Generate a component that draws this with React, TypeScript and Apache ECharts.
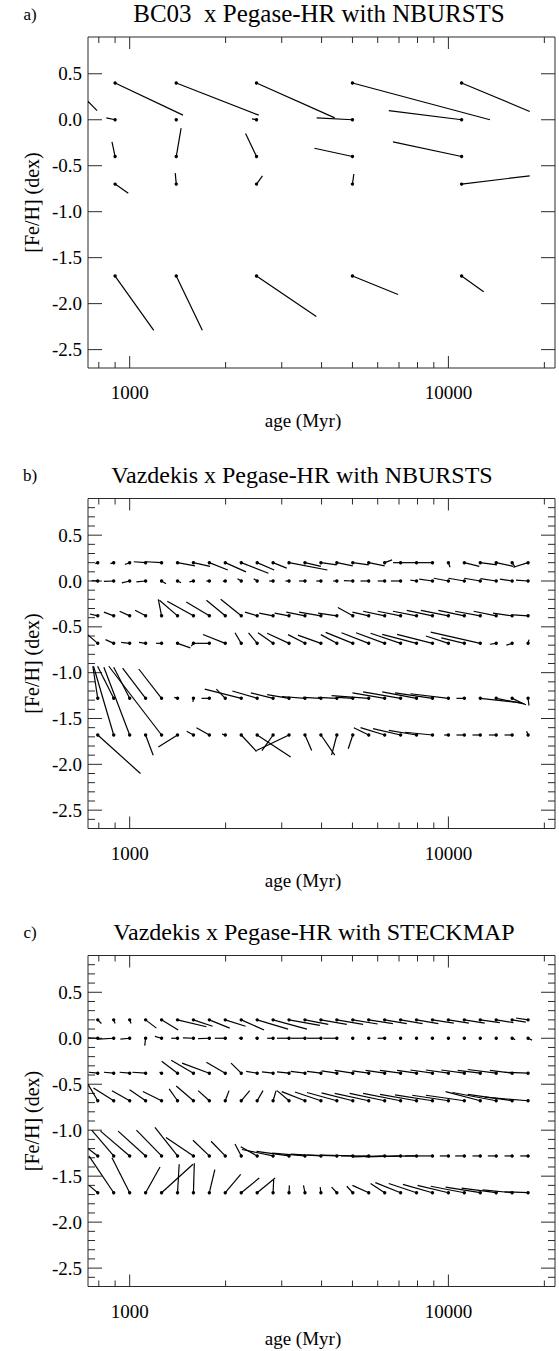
import React, { useEffect, useRef } from "react";
import * as echarts from "echarts";

const FONT = "Liberation Serif";
const INK = "#000";
const FRAME = "#2a2a2a";

// ---- axes ----
const X_MIN = 740;
const X_MAX = 21600;
const Y_MIN = -2.7;
const Y_MAX = 0.9;
const xLabelValues = [1000, 10000];
const xMajorTicks = [1000, 10000];
const xMinorTicks = [800, 900, 2000, 3000, 4000, 5000, 6000, 7000, 8000, 9000, 20000];
const yLabelValues = [-2.5, -2.0, -1.5, -1.0, -0.5, 0.0, 0.5];
const yMajorTicks = [-2.5, -2.0, -1.5, -1.0, -0.5, 0.0, 0.5];
const yMinorTicks = [
  -2.6, -2.4, -2.3, -2.2, -2.1, -1.9, -1.8, -1.7, -1.6, -1.4, -1.3, -1.2, -1.1,
  -0.9, -0.8, -0.7, -0.6, -0.4, -0.3, -0.2, -0.1, 0.1, 0.2, 0.3, 0.4, 0.6, 0.7, 0.8,
];

const panelLetters = ["a)", "b)", "c)"];
const panelTitles = [
  "BC03  x Pegase-HR with NBURSTS",
  "Vazdekis x Pegase-HR with NBURSTS",
  "Vazdekis x Pegase-HR with STECKMAP",
];
const xTitle = "age (Myr)";
const yTitle = "[Fe/H] (dex)";

// ---- panel a : BC03 grid ----
const aAges = [900, 1400, 2500, 5000, 11000];
const aMets = [0.4, 0.0, -0.4, -0.7, -1.7];
const aRecAge_p04 = [1470, 2540, 4400, 13500, 18000];
const aRecMet_p04 = [0.05, 0.05, 0.02, 0.0, 0.09];
const aRecAge_p00 = [845, 1400, 2420, 3860, 6500];
const aRecMet_p00 = [0.02, 0.0, 0.01, 0.02, 0.1];
const aRecAge_m04 = [880, 1450, 2310, 3800, 6700];
const aRecMet_m04 = [-0.24, -0.09, -0.15, -0.31, -0.24];
const aRecAge_m07 = [990, 1390, 2610, 5050, 18000];
const aRecMet_m07 = [-0.8, -0.58, -0.61, -0.59, -0.61];
const aRecAge_m17 = [1190, 1690, 3850, 6950, 12900];
const aRecMet_m17 = [-2.29, -2.29, -2.14, -1.9, -1.87];
// younger model (outside the plotted age range)
const aExtraAge = [650];
const aExtraMet = [0.4];
const aExtraRecAge = [790];
const aExtraRecMet = [0.1];

// ---- Vazdekis grid ----
const vAges = [
  794, 891, 1000, 1122, 1259, 1413, 1585, 1778, 1995, 2239, 2512, 2818, 3162, 3548,
  3981, 4467, 5012, 5623, 6310, 7079, 7943, 8913, 10000, 11220, 12589, 14125, 15849, 17783,
];
const vMets = [0.2, 0.0, -0.38, -0.68, -1.28, -1.68];

// ---- panel b : NBURSTS ----
const bRecAge_p020 = [780, 870, 966, 1030, 1125, 1603, 1786, 2032, 2317, 2725, 2841, 3109, 4173, 3981, 4467, 5012, 5623, 6310, 6660, 6700, 7140, 7940, 10120, 12500, 14200, 15980, 16200, 15980];
const bRecMet_p020 = [0.19, 0.19, 0.18, 0.21, 0.21, 0.165, 0.16, 0.12, 0.1, 0.085, 0.12, 0.14, 0.12, 0.16, 0.175, 0.165, 0.175, 0.165, 0.23, 0.2, 0.2, 0.2, 0.15, 0.16, 0.175, 0.16, 0.15, 0.15];
const bRecAge_p000 = [760, 830, 945, 1050, 1300, 1450, 1540, 1740, 1960, 2180, 2450, 2740, 3080, 3400, 3850, 4350, 4700, 5300, 6000, 6600, 7600, 8100, 9000, 10000, 11200, 12600, 14500, 16300];
const bRecMet_p000 = [0.005, -0.005, -0.02, -0.01, -0.03, -0.02, -0.01, 0.0, -0.005, 0.025, 0.025, 0.0, 0.0, 0.0, 0.0, 0.0, 0.005, 0.0, 0.0, 0.0, 0.01, 0.02, 0.03, 0.03, 0.03, 0.025, 0.02, 0.01];
const bRecAge_m038 = [750, 830, 930, 1040, 1230, 1240, 1312, 1505, 1741, 1930, 2300, 2550, 2850, 3100, 3400, 3900, 4500, 5000, 5400, 6000, 6700, 7400, 8200, 9300, 10500, 12000, 13800, 16000];
const bRecMet_m038 = [-0.36, -0.34, -0.33, -0.32, -0.2, -0.21, -0.22, -0.23, -0.21, -0.2, -0.34, -0.35, -0.35, -0.34, -0.34, -0.35, -0.29, -0.34, -0.33, -0.33, -0.33, -0.32, -0.32, -0.32, -0.33, -0.33, -0.35, -0.37];
const bRecAge_m068 = [735, 840, 940, 1070, 1210, 1550, 1560, 1600, 1698, 2140, 2360, 2527, 2700, 3140, 3370, 3980, 4120, 4620, 5130, 5700, 6200, 6900, 8500, 9500, 8800, 13500, 15200, 17900];
const bRecMet_m068 = [-0.58, -0.64, -0.67, -0.67, -0.68, -0.73, -0.71, -0.68, -0.583, -0.565, -0.565, -0.565, -0.57, -0.585, -0.59, -0.585, -0.56, -0.565, -0.565, -0.57, -0.583, -0.583, -0.6, -0.62, -0.558, -0.69, -0.7, -0.64];
const bRecAge_m128 = [766, 793, 891, 950, 1068, 1380, 1580, 1680, 1870, 1720, 2100, 2400, 2700, 3000, 3500, 3900, 4500, 4300, 5000, 5400, 6200, 6800, 7600, 10600, 17000, 17300, 17500, 17900];
const bRecMet_m128 = [-0.93, -0.93, -0.94, -0.95, -0.96, -1.27, -1.32, -1.28, -1.18, -1.18, -1.2, -1.22, -1.24, -1.26, -1.27, -1.27, -1.27, -1.25, -1.22, -1.21, -1.21, -1.22, -1.23, -1.28, -1.33, -1.34, -1.35, -1.36];
const bRecAge_m168 = [1081, 770, 830, 1185, 860, 1230, 1510, 1620, 1950, 2500, 3200, 2600, 2500, 3725, 4400, 4300, 4850, 5050, 5300, 5800, 6500, 7300, 9700, 10600, 11900, 13400, 15000, 17600];
const bRecMet_m168 = [-2.1, -0.93, -0.94, -1.9, -0.93, -1.81, -1.64, -1.6, -1.67, -1.86, -1.92, -1.85, -1.85, -1.85, -1.9, -1.9, -1.83, -1.6, -1.6, -1.61, -1.63, -1.65, -1.68, -1.68, -1.68, -1.68, -1.68, -1.64];

// ---- panel c : STECKMAP ----
const cRecAge_p020 = [815, 900, 1010, 1213, 1420, 1740, 1820, 2060, 2310, 2640, 3140, 3600, 3950, 4200, 4800, 5400, 6000, 6700, 7400, 8300, 9300, 10400, 11600, 13000, 14500, 16000, 17500, 16300];
const cRecMet_p020 = [0.16, 0.16, 0.16, 0.11, 0.09, 0.125, 0.13, 0.11, 0.13, 0.09, 0.1, 0.1, 0.14, 0.15, 0.15, 0.15, 0.155, 0.16, 0.16, 0.16, 0.16, 0.165, 0.165, 0.165, 0.17, 0.17, 0.175, 0.22];
const cRecAge_p000 = [740, 800, 935, 1115, 1200, 1350, 1470, 1640, 1850, 2200, 2480, 2700, 2900, 3200, 3600, 4050, 4950, 5600, 6000, 7000, 7900, 8800, 9900, 11100, 12500, 14000, 16200, 18300];
const cRecMet_p000 = [0.005, -0.01, -0.01, -0.08, 0.02, 0.0, 0.005, -0.005, 0.0, 0.0, 0.0, 0.0, 0.0, 0.0, 0.0, 0.0, 0.0, 0.0, 0.0, 0.0, 0.0, 0.0, 0.0, 0.0, 0.0, 0.0, -0.015, -0.02];
const cRecAge_m038 = [745, 830, 930, 1020, 1240, 1260, 1350, 1460, 1740, 2080, 2320, 2600, 2900, 3200, 3600, 4000, 4400, 5000, 5500, 6100, 6900, 7600, 8500, 9500, 10700, 11500, 13500, 15000];
const cRecMet_m038 = [-0.37, -0.37, -0.37, -0.37, -0.37, -0.25, -0.24, -0.27, -0.26, -0.27, -0.36, -0.365, -0.365, -0.36, -0.36, -0.355, -0.35, -0.355, -0.35, -0.35, -0.35, -0.345, -0.345, -0.345, -0.35, -0.34, -0.35, -0.37];
const cRecAge_m068 = [740, 770, 880, 1000, 1100, 1330, 1400, 1640, 2050, 2380, 2620, 2880, 2900, 3000, 3300, 3600, 4000, 4400, 4900, 5400, 6100, 6800, 7700, 8500, 9800, 10300, 11500, 13000];
const cRecMet_m068 = [-0.5, -0.54, -0.57, -0.56, -0.58, -0.55, -0.52, -0.57, -0.57, -0.57, -0.57, -0.57, -0.57, -0.58, -0.585, -0.59, -0.595, -0.6, -0.6, -0.6, -0.61, -0.615, -0.62, -0.62, -0.58, -0.59, -0.61, -0.64];
const cRecAge_m128 = [740, 760, 810, 920, 1050, 1200, 1300, 1580, 1800, 2140, 2230, 2250, 2500, 2800, 3200, 3600, 4000, 4600, 5000, 5500, 6300, 7300, 9400, 10500, 11900, 13300, 15000, 16800];
const cRecMet_m128 = [-1.2, -1.0, -1.01, -1.01, -1.0, -0.97, -1.08, -1.11, -1.12, -1.15, -1.18, -1.21, -1.23, -1.25, -1.26, -1.27, -1.27, -1.28, -1.29, -1.29, -1.285, -1.28, -1.28, -1.28, -1.28, -1.28, -1.28, -1.28];
const cRecAge_m168 = [745, 745, 880, 1245, 1580, 1430, 1595, 1850, 2230, 2550, 2860, 2830, 3170, 3510, 3960, 4300, 4800, 5000, 5700, 5900, 6500, 7200, 8000, 8800, 9800, 11000, 12800, 15000];
const cRecMet_m168 = [-1.6, -1.28, -1.3, -1.4, -1.37, -1.37, -1.36, -1.43, -1.48, -1.52, -1.52, -1.54, -1.6, -1.6, -1.62, -1.62, -1.61, -1.6, -1.58, -1.57, -1.58, -1.59, -1.6, -1.61, -1.62, -1.63, -1.65, -1.67];

type Seg = [number, number, number, number];

function segments(ages: number[], mets: number[], recAges: number[][], recMets: number[][]): Seg[] {
  const out: Seg[] = [];
  mets.forEach((m, r) => {
    ages.forEach((a, k) => {
      out.push([a, m, recAges[r][k], recMets[r][k]]);
    });
  });
  return out;
}

const segA: Seg[] = [
  ...segments(
    aAges,
    aMets,
    [aRecAge_p04, aRecAge_p00, aRecAge_m04, aRecAge_m07, aRecAge_m17],
    [aRecMet_p04, aRecMet_p00, aRecMet_m04, aRecMet_m07, aRecMet_m17]
  ),
  ...segments(aExtraAge, aExtraMet, [aExtraRecAge], [aExtraRecMet]),
];
const segB = segments(
  vAges,
  vMets,
  [bRecAge_p020, bRecAge_p000, bRecAge_m038, bRecAge_m068, bRecAge_m128, bRecAge_m168],
  [bRecMet_p020, bRecMet_p000, bRecMet_m038, bRecMet_m068, bRecMet_m128, bRecMet_m168]
);
const segC = segments(
  vAges,
  vMets,
  [cRecAge_p020, cRecAge_p000, cRecAge_m038, cRecAge_m068, cRecAge_m128, cRecAge_m168],
  [cRecMet_p020, cRecMet_p000, cRecMet_m038, cRecMet_m068, cRecMet_m128, cRecMet_m168]
);
const panelSegments = [segA, segB, segC];
const panelHasYMinor = [false, true, true];

const grids = [
  { left: 88, top: 37, width: 467, height: 331 },
  { left: 88, top: 498.5, width: 467, height: 330 },
  { left: 88, top: 955.5, width: 467, height: 331 },
];
const titleX = [319, 302, 314];
const titleSize = [25, 24, 24];

function buildOption() {
  const xAxis: any[] = [];
  const yAxis: any[] = [];
  const series: any[] = [];
  const graphic: any[] = [];

  grids.forEach((g, i) => {
    xAxis.push({
      gridIndex: i,
      type: "log",
      logBase: 10,
      min: X_MIN,
      max: X_MAX,
      axisLine: { show: false },
      axisTick: { show: false },
      splitLine: { show: false },
      axisLabel: {
        customValues: xLabelValues,
        formatter: (v: number) => {
          const r = Math.round(v);
          return xLabelValues.includes(r) ? String(r) : "";
        },
        fontFamily: FONT,
        fontSize: 19,
        color: INK,
        margin: 15,
      },
    });
    yAxis.push({
      gridIndex: i,
      type: "value",
      min: Y_MIN,
      max: Y_MAX,
      splitNumber: 7,
      axisLine: { show: false },
      axisTick: { show: false },
      splitLine: { show: false },
      axisLabel: {
        customValues: yLabelValues,
        formatter: (v: number) => {
          const r = Math.round(v * 10) / 10;
          return yLabelValues.includes(r) ? (Math.abs(r) < 1e-9 ? 0 : r).toFixed(1) : "";
        },
        fontFamily: FONT,
        fontSize: 19,
        color: INK,
        margin: 6,
      },
    });

    // x ticks (top and bottom)
    const xTickData = [
      ...xMajorTicks.map((v) => [v, 0, 1]),
      ...xMinorTicks.map((v) => [v, 0, 0]),
    ];
    series.push({
      type: "custom",
      xAxisIndex: i,
      yAxisIndex: i,
      silent: true,
      clip: false,
      encode: { x: 0, y: 1 },
      data: xTickData,
      renderItem: (params: any, api: any) => {
        const cs = params.coordSys;
        const x = api.coord([api.value(0), api.value(1)])[0];
        const len = api.value(2) ? 12 : 6;
        const bottom = cs.y + cs.height;
        return {
          type: "group",
          children: [
            { type: "line", shape: { x1: x, y1: bottom, x2: x, y2: bottom - len }, style: { stroke: FRAME, lineWidth: 1 } },
            { type: "line", shape: { x1: x, y1: cs.y, x2: x, y2: cs.y + len }, style: { stroke: FRAME, lineWidth: 1 } },
          ],
        };
      },
    });

    // y ticks (left and right)
    const yTickData = [
      ...yMajorTicks.map((v) => [1000, v, 1]),
      ...(panelHasYMinor[i] ? yMinorTicks.map((v) => [1000, v, 0]) : []),
    ];
    series.push({
      type: "custom",
      xAxisIndex: i,
      yAxisIndex: i,
      silent: true,
      clip: false,
      encode: { x: 0, y: 1 },
      data: yTickData,
      renderItem: (params: any, api: any) => {
        const cs = params.coordSys;
        const y = api.coord([api.value(0), api.value(1)])[1];
        const len = api.value(2) ? 14 : 7;
        const right = cs.x + cs.width;
        return {
          type: "group",
          children: [
            { type: "line", shape: { x1: cs.x, y1: y, x2: cs.x + len, y2: y }, style: { stroke: FRAME, lineWidth: 1 } },
            { type: "line", shape: { x1: right, y1: y, x2: right - len, y2: y }, style: { stroke: FRAME, lineWidth: 1 } },
          ],
        };
      },
    });

    // model -> recovered segments
    series.push({
      type: "custom",
      xAxisIndex: i,
      yAxisIndex: i,
      silent: true,
      clip: true,
      encode: { x: [0, 2], y: [1, 3] },
      data: panelSegments[i],
      renderItem: (_params: any, api: any) => {
        const p0 = api.coord([api.value(0), api.value(1)]);
        const p1 = api.coord([api.value(2), api.value(3)]);
        return {
          type: "group",
          children: [
            { type: "line", shape: { x1: p0[0], y1: p0[1], x2: p1[0], y2: p1[1] }, style: { stroke: INK, lineWidth: 1.2 } },
            { type: "circle", shape: { cx: p0[0], cy: p0[1], r: 1.7 }, style: { fill: INK } },
          ],
        };
      },
    });

    const bottom = g.top + g.height;
    graphic.push(
      {
        type: "text",
        x: 30,
        y: g.top - 23,
        style: { text: panelLetters[i], fontFamily: FONT, fontSize: 17, fill: INK, textAlign: "center", textVerticalAlign: "middle" },
      },
      {
        type: "text",
        x: titleX[i],
        y: g.top - 23.5,
        style: { text: panelTitles[i], fontFamily: FONT, fontSize: titleSize[i], fill: INK, textAlign: "center", textVerticalAlign: "middle" },
      },
      {
        type: "text",
        x: 303,
        y: bottom + 52,
        style: { text: xTitle, fontFamily: FONT, fontSize: 19, fill: INK, textAlign: "center", textVerticalAlign: "middle" },
      },
      {
        type: "text",
        x: 32,
        y: g.top + g.height / 2,
        rotation: Math.PI / 2,
        style: { text: yTitle, fontFamily: FONT, fontSize: 20, fill: INK, textAlign: "center", textVerticalAlign: "middle" },
      }
    );
  });

  return {
    animation: false,
    backgroundColor: "#fff",
    grid: grids.map((g) => ({ ...g, show: true, borderColor: FRAME, borderWidth: 1, backgroundColor: "transparent" })),
    xAxis,
    yAxis,
    series,
    graphic,
  };
}

export default function App() {
  const ref = useRef<HTMLDivElement>(null);
  useEffect(() => {
    if (!ref.current) return;
    const chart = echarts.init(ref.current, null, { renderer: "svg" });
    chart.setOption(buildOption() as any);
    return () => chart.dispose();
  }, []);
  return (
    <div
      ref={ref}
      style={{ position: "absolute", left: 0, top: 0, width: 559, height: 1351, background: "#fff" }}
    />
  );
}
